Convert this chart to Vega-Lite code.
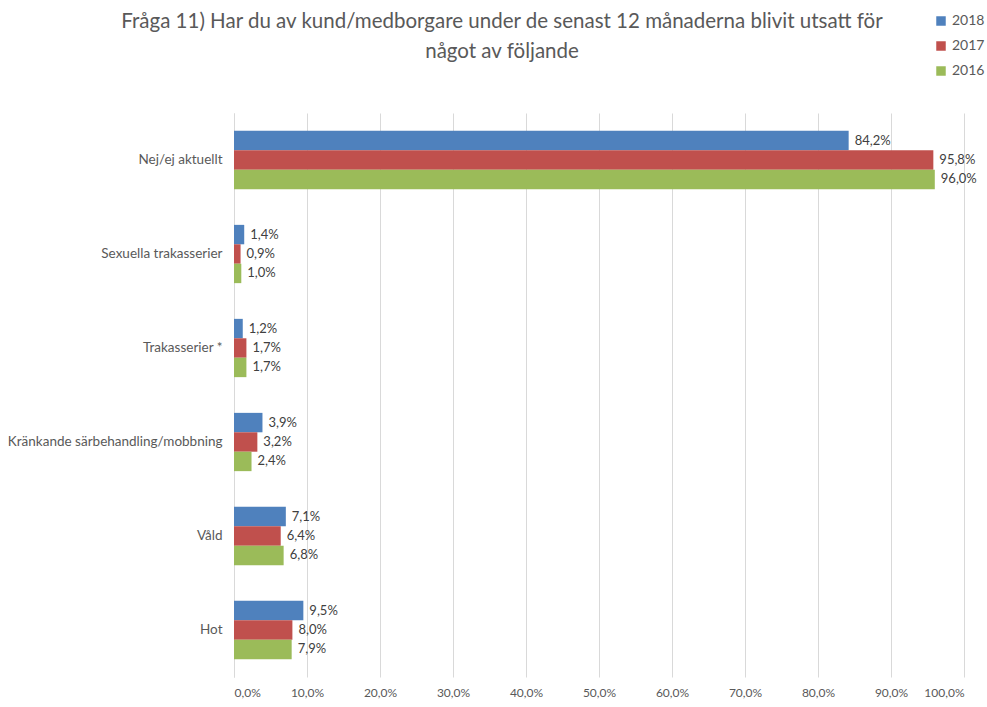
{
  "$schema": "https://vega.github.io/schema/vega-lite/v6.json",
  "width": 730,
  "height": 564,
  "autosize": "none",
  "padding": {"left": 234, "top": 113, "right": 23, "bottom": 30},
  "background": "white",
  "config": {
    "locale": {"number": {"decimal": ",", "thousands": " ", "grouping": [3], "currency": ["", " kr"]}},
    "view": {"stroke": null},
    "font": "Lato"
  },
  "title": {
    "text": ["Fråga 11) Har du av kund/medborgare under de senast 12 månaderna blivit utsatt för", "något av följande"],
    "anchor": "middle",
    "dx": -97,
    "offset": -48,
    "fontSize": 20.5,
    "fontWeight": "normal",
    "color": "#595959",
    "lineHeight": 30,
    "font": "Lato"
  },
  "data": {
    "values": [
      {"kategori": "Nej/ej aktuellt", "år": "2018", "värde": 0.842},
      {"kategori": "Nej/ej aktuellt", "år": "2017", "värde": 0.958},
      {"kategori": "Nej/ej aktuellt", "år": "2016", "värde": 0.960},
      {"kategori": "Sexuella trakasserier", "år": "2018", "värde": 0.014},
      {"kategori": "Sexuella trakasserier", "år": "2017", "värde": 0.009},
      {"kategori": "Sexuella trakasserier", "år": "2016", "värde": 0.010},
      {"kategori": "Trakasserier *", "år": "2018", "värde": 0.012},
      {"kategori": "Trakasserier *", "år": "2017", "värde": 0.017},
      {"kategori": "Trakasserier *", "år": "2016", "värde": 0.017},
      {"kategori": "Kränkande särbehandling/mobbning", "år": "2018", "värde": 0.039},
      {"kategori": "Kränkande särbehandling/mobbning", "år": "2017", "värde": 0.032},
      {"kategori": "Kränkande särbehandling/mobbning", "år": "2016", "värde": 0.024},
      {"kategori": "Våld", "år": "2018", "värde": 0.071},
      {"kategori": "Våld", "år": "2017", "värde": 0.064},
      {"kategori": "Våld", "år": "2016", "värde": 0.068},
      {"kategori": "Hot", "år": "2018", "värde": 0.095},
      {"kategori": "Hot", "år": "2017", "värde": 0.080},
      {"kategori": "Hot", "år": "2016", "värde": 0.079}
    ]
  },
  "encoding": {
    "y": {
      "field": "kategori",
      "type": "nominal",
      "sort": ["Nej/ej aktuellt", "Sexuella trakasserier", "Trakasserier *", "Kränkande särbehandling/mobbning", "Våld", "Hot"],
      "scale": {"paddingInner": 0.38, "paddingOuter": 0.19},
      "axis": {
        "title": null,
        "ticks": false,
        "domainColor": "#D9D9D9",
        "labelColor": "#595959",
        "labelFontSize": 13.5,
        "labelPadding": 12,
        "labelLimit": 300
      }
    },
    "yOffset": {"field": "år", "type": "nominal", "sort": ["2018", "2017", "2016"]},
    "x": {
      "field": "värde",
      "type": "quantitative",
      "scale": {"domain": [0, 1], "nice": false},
      "axis": {
        "title": null,
        "format": ".1%",
        "values": [0, 0.1, 0.2, 0.3, 0.4, 0.5, 0.6, 0.7, 0.8, 0.9, 1.0],
        "domain": false,
        "ticks": false,
        "gridColor": "#D9D9D9",
        "labelColor": "#595959",
        "labelFontSize": 12,
        "labelPadding": 10
      }
    }
  },
  "layer": [
    {
      "mark": {"type": "bar"},
      "encoding": {
        "color": {
          "field": "år",
          "type": "nominal",
          "sort": ["2018", "2017", "2016"],
          "scale": {"domain": ["2018", "2017", "2016"], "range": ["#4F81BD", "#C0504D", "#9BBB59"]},
          "legend": {
            "title": null,
            "orient": "none",
            "legendX": 700,
            "legendY": -99,
            "symbolType": "square",
            "symbolSize": 90,
            "symbolStrokeWidth": 0,
            "labelFontSize": 14,
            "labelColor": "#595959",
            "rowPadding": 11,
            "labelOffset": 4
          }
        }
      }
    },
    {
      "mark": {"type": "text", "align": "left", "dx": 6, "fontSize": 13, "color": "#404040"},
      "encoding": {
        "text": {"field": "värde", "type": "quantitative", "format": ".1%"}
      }
    }
  ]
}
